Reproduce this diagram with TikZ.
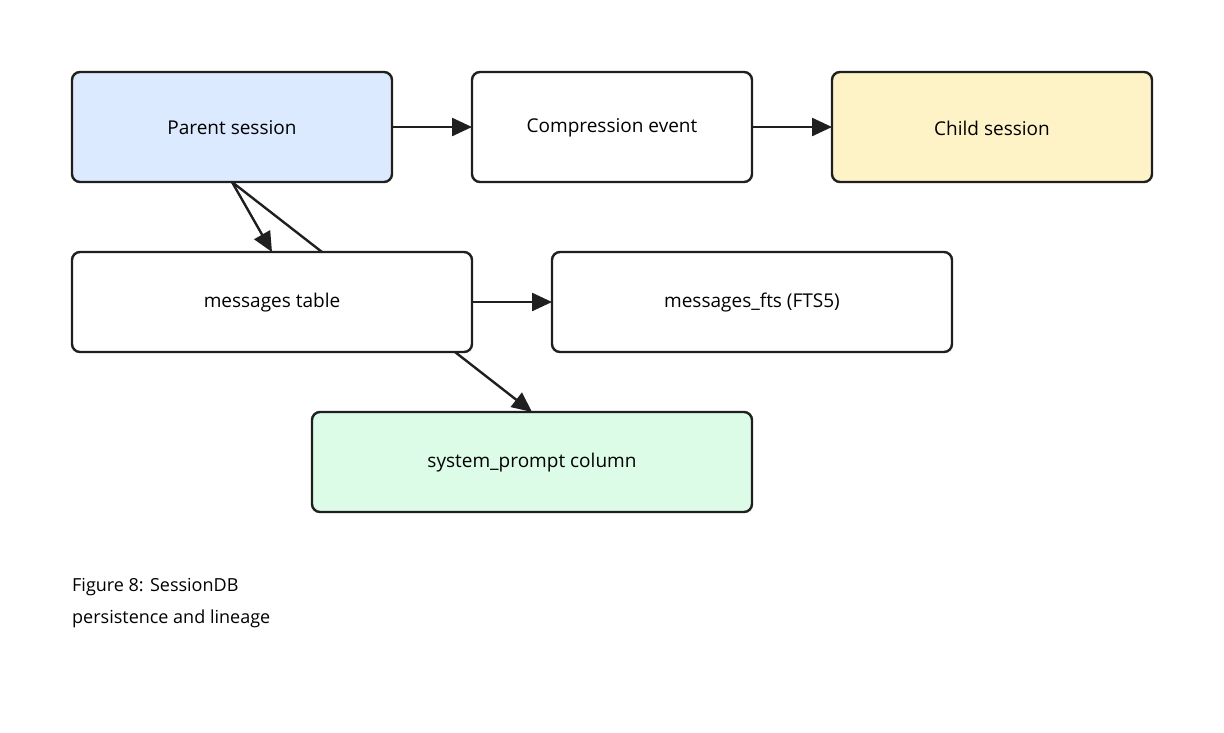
\documentclass[tikz,border=0pt]{standalone}
\usepackage{fontspec}
\setmainfont{Open Sans}
\usetikzlibrary{arrows.meta}
\definecolor{pblue}{HTML}{DBEAFE}
\definecolor{pyel}{HTML}{FEF3C7}
\definecolor{pgrn}{HTML}{DCFCE7}
\begin{document}
\begin{tikzpicture}[x=1pt,y=-1pt,
  box/.style={draw=black!88,line width=2.4pt,rounded corners=8pt,fill=white},
  lbl/.style={font=\fontsize{19}{22}\selectfont},
  arr/.style={draw=black!88,line width=2.4pt,-{Triangle[length=20pt,width=18pt]}},
  ln/.style={draw=black!88,line width=2.4pt}]
\useasboundingbox (0,0) rectangle (1224,732);
\path[box,fill=pblue] (72,72) rectangle (392,182);
\node[lbl] (p) at (232,128) {Parent session};
\path[box] (472,72) rectangle (752,182);
\node[lbl] (c) at (612,128) {Compression event};
\path[box,fill=pyel] (832,72) rectangle (1152,182);
\node[lbl] (ch) at (992,128) {Child session};
\path[box] (72,252) rectangle (472,352);
\node[lbl] (m) at (272,303) {messages table};
\path[box] (552,252) rectangle (952,352);
\node[lbl] (f) at (752,303) {messages\_fts (FTS5)};
\path[box,fill=pgrn] (312,412) rectangle (752,512);
\node[lbl] (s) at (532,463) {system\_prompt column};
\coordinate (pr) at (392,127); \coordinate (cl) at (472,127);
\coordinate (cr) at (752,127); \coordinate (chl) at (832,127);
\coordinate (pb) at (232,182); \coordinate (mt1) at (272,252); \coordinate (mt2) at (322,252);
\coordinate (mr) at (472,302); \coordinate (fl) at (552,302);
\coordinate (mb) at (455,352); \coordinate (st) at (532,412);
\draw[arr] (pr) -- (cl);
\draw[arr] (cr) -- (chl);
\draw[arr] (pb) -- (mt1);
\draw[ln] (pb) -- (mt2);
\draw[arr] (mr) -- (fl);
\draw[arr] (mb) -- (st);
\node[anchor=north west,align=left,font=\fontsize{18}{32}\selectfont,inner sep=0pt] (cap) at (72,578) {Figure 8: SessionDB\\persistence and lineage};
\end{tikzpicture}
\end{document}
